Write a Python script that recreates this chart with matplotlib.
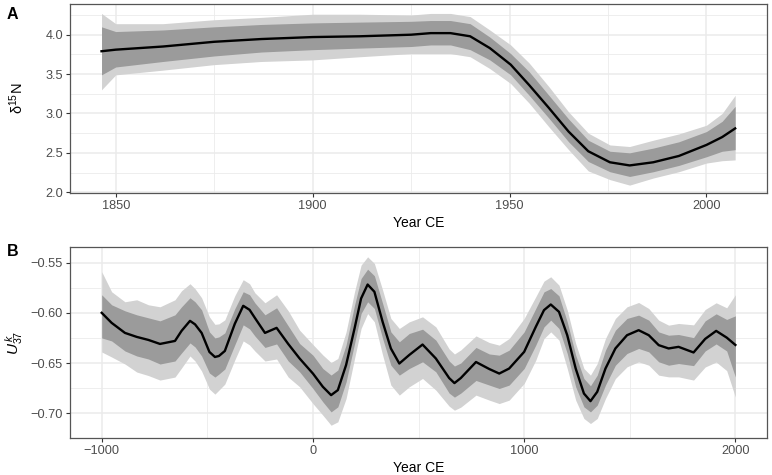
import matplotlib
matplotlib.use("Agg")
import matplotlib.pyplot as plt
from matplotlib.ticker import MultipleLocator

plt.rcParams['font.family'] = ['Liberation Sans', 'DejaVu Sans']
plt.rcParams['mathtext.fontset'] = 'custom'
plt.rcParams['mathtext.rm'] = 'Liberation Sans'
plt.rcParams['mathtext.it'] = 'Liberation Sans:italic'

# panel A: d15N record (recent two centuries)
year_a = [1846.4, 1850, 1862, 1875, 1887, 1900, 1912, 1925, 1930, 1935, 1940, 1945,
          1950.3, 1955, 1960, 1965, 1970, 1975.5, 1980.5, 1986.5, 1993, 2000, 2004, 2007.3]
d15n = [3.79, 3.81, 3.85, 3.91, 3.945, 3.97, 3.98, 4.00, 4.02, 4.02, 3.98, 3.83,
        3.62, 3.36, 3.07, 2.77, 2.52, 2.38, 2.34, 2.38, 2.46, 2.60, 2.70, 2.81]
d15n_in_hi = [4.10, 4.04, 4.06, 4.10, 4.13, 4.15, 4.16, 4.17, 4.18, 4.18, 4.14, 3.97,
              3.76, 3.53, 3.23, 2.93, 2.66, 2.52, 2.50, 2.56, 2.64, 2.77, 2.90, 3.09]
d15n_in_lo = [3.49, 3.59, 3.66, 3.73, 3.78, 3.81, 3.83, 3.85, 3.87, 3.87, 3.81, 3.68,
              3.49, 3.23, 2.94, 2.64, 2.39, 2.26, 2.20, 2.26, 2.34, 2.45, 2.52, 2.54]
d15n_out_hi = [4.27, 4.14, 4.14, 4.19, 4.22, 4.26, 4.26, 4.25, 4.27, 4.27, 4.23, 4.06,
               3.87, 3.64, 3.34, 3.02, 2.75, 2.60, 2.58, 2.66, 2.74, 2.85, 3.00, 3.23]
d15n_out_lo = [3.30, 3.49, 3.55, 3.62, 3.66, 3.68, 3.72, 3.76, 3.76, 3.76, 3.72, 3.57,
               3.38, 3.13, 2.83, 2.54, 2.27, 2.16, 2.09, 2.18, 2.26, 2.37, 2.40, 2.41]

# panel B: UK37 record (last three millennia)
year_b = [-1000, -953, -890, -834, -779, -724, -653, -622, -582, -558, -527, -490,
          -464, -445, -417, -370, -330, -300, -275, -227, -172, -117, -63, 0,
          47, 86, 118, 157, 197, 228, 259, 291, 330, 369, 409, 456,
          519, 582, 645, 670, 700, 772, 835, 882, 929, 1000, 1055, 1094,
          1126, 1165, 1204, 1244, 1283, 1314, 1346, 1385, 1432, 1487, 1542, 1590,
          1637, 1684, 1731, 1802, 1857, 1909, 1959, 2000]
uk37 = [-0.600, -0.610, -0.620, -0.624, -0.627, -0.631, -0.628, -0.618, -0.608, -0.6115, -0.620, -0.639,
        -0.644, -0.643, -0.638, -0.611, -0.593, -0.597, -0.605, -0.620, -0.615, -0.631, -0.6455, -0.6605,
        -0.6737, -0.682, -0.677, -0.652, -0.6156, -0.5857, -0.5718, -0.579, -0.609, -0.6355, -0.6505, -0.642,
        -0.6316, -0.6455, -0.665, -0.670, -0.665, -0.649, -0.656, -0.6605, -0.6555, -0.6389, -0.614, -0.5973,
        -0.5917, -0.599, -0.6223, -0.6555, -0.6804, -0.688, -0.6787, -0.6555, -0.6355, -0.6223, -0.6173, -0.6223,
        -0.6322, -0.6355, -0.6339, -0.6395, -0.626, -0.618, -0.6247, -0.632]
uk37_in_hi = [-0.582, -0.592, -0.598, -0.602, -0.605, -0.608, -0.602, -0.594, -0.585, -0.589, -0.597, -0.619,
              -0.625, -0.624, -0.620, -0.596, -0.579, -0.582, -0.590, -0.602, -0.595, -0.613, -0.6306, -0.6422,
              -0.6555, -0.662, -0.657, -0.632, -0.5924, -0.5658, -0.5565, -0.5631, -0.5907, -0.619, -0.6289, -0.6206,
              -0.6163, -0.6272, -0.648, -0.653, -0.650, -0.6345, -0.641, -0.6422, -0.6372, -0.619, -0.5957, -0.5791,
              -0.5758, -0.5831, -0.609, -0.6422, -0.6655, -0.6727, -0.6621, -0.6372, -0.6173, -0.6056, -0.6023, -0.6073,
              -0.619, -0.6223, -0.6216, -0.6247, -0.608, -0.601, -0.6066, -0.603]
uk37_in_lo = [-0.625, -0.628, -0.638, -0.643, -0.646, -0.651, -0.648, -0.640, -0.630, -0.634, -0.643, -0.660,
              -0.664, -0.661, -0.656, -0.632, -0.612, -0.616, -0.623, -0.6345, -0.631, -0.648, -0.6588, -0.6754,
              -0.6887, -0.6987, -0.6937, -0.6688, -0.6306, -0.6007, -0.589, -0.5957, -0.6256, -0.6522, -0.6621, -0.6555,
              -0.6488, -0.6588, -0.680, -0.684, -0.680, -0.6674, -0.672, -0.6754, -0.672, -0.6555, -0.6322, -0.614,
              -0.6073, -0.6156, -0.6405, -0.6737, -0.6937, -0.6987, -0.692, -0.672, -0.6522, -0.6405, -0.6355, -0.6389,
              -0.6488, -0.6522, -0.6505, -0.6526, -0.638, -0.631, -0.638, -0.664]
uk37_out_hi = [-0.559, -0.579, -0.589, -0.587, -0.592, -0.594, -0.587, -0.578, -0.571, -0.576, -0.585, -0.604,
               -0.6115, -0.611, -0.607, -0.583, -0.567, -0.571, -0.580, -0.590, -0.582, -0.598, -0.6173, -0.6316,
               -0.642, -0.6495, -0.6455, -0.619, -0.579, -0.5525, -0.5442, -0.5508, -0.5774, -0.6056, -0.6156, -0.609,
               -0.604, -0.614, -0.636, -0.641, -0.637, -0.623, -0.6296, -0.6322, -0.6256, -0.6056, -0.584, -0.5684,
               -0.5641, -0.5724, -0.5973, -0.6306, -0.6555, -0.6621, -0.6505, -0.6256, -0.6056, -0.594, -0.5897, -0.5957,
               -0.6073, -0.6123, -0.6106, -0.612, -0.5967, -0.590, -0.595, -0.582]
uk37_out_lo = [-0.639, -0.644, -0.651, -0.659, -0.6625, -0.667, -0.664, -0.655, -0.643, -0.648, -0.658, -0.676,
               -0.681, -0.677, -0.671, -0.647, -0.628, -0.632, -0.638, -0.648, -0.646, -0.664, -0.6737, -0.6904,
               -0.702, -0.712, -0.7086, -0.6854, -0.6455, -0.6156, -0.6007, -0.609, -0.6422, -0.672, -0.682, -0.6737,
               -0.6654, -0.677, -0.693, -0.697, -0.694, -0.682, -0.687, -0.6904, -0.687, -0.6704, -0.6472, -0.6256,
               -0.619, -0.6272, -0.6555, -0.687, -0.7053, -0.7103, -0.7053, -0.6854, -0.6655, -0.6538, -0.6488, -0.6522,
               -0.6621, -0.6638, -0.6638, -0.667, -0.654, -0.649, -0.6576, -0.684]

OUTER = '#d2d2d2'
INNER = '#9b9b9b'
GRID = '#ebebeb'


def _style(ax, xmaj, xmin, ymaj, ymin):
    ax.xaxis.set_major_locator(MultipleLocator(xmaj))
    ax.xaxis.set_minor_locator(MultipleLocator(xmin))
    ax.yaxis.set_major_locator(MultipleLocator(ymaj))
    ax.yaxis.set_minor_locator(MultipleLocator(ymin))
    ax.grid(which='major', color=GRID, lw=1.1)
    ax.grid(which='minor', color=GRID, lw=0.6)
    ax.set_axisbelow(True)
    for s in ax.spines.values():
        s.set_color('#555555')
        s.set_linewidth(0.9)
    ax.tick_params(which='major', length=3, width=0.8, color='#333333',
                   labelsize=9.2, labelcolor='#4d4d4d', pad=2)
    ax.tick_params(which='minor', length=0)
    ax.set_xlabel('Year CE', fontsize=10, labelpad=3)


fig = plt.figure(figsize=(7.72, 4.75), dpi=100)
ax_a = fig.add_axes([0.0907, 0.5937, 0.9029, 0.3979])
ax_b = fig.add_axes([0.0907, 0.0773, 0.9029, 0.4021])

ax_a.fill_between(year_a, d15n_out_lo, d15n_out_hi, color=OUTER, lw=0)
ax_a.fill_between(year_a, d15n_in_lo, d15n_in_hi, color=INNER, lw=0)
ax_a.plot(year_a, d15n, color='black', lw=1.7)
ax_a.set_xlim(1838.4, 2015.4)
ax_a.set_ylim(1.99, 4.39)
_style(ax_a, 50, 25, 0.5, 0.25)
ax_a.yaxis.set_major_formatter(lambda v, p: f'{v:.1f}')

ax_b.fill_between(year_b, uk37_out_lo, uk37_out_hi, color=OUTER, lw=0)
ax_b.fill_between(year_b, uk37_in_lo, uk37_in_hi, color=INNER, lw=0)
ax_b.plot(year_b, uk37, color='black', lw=1.7)
ax_b.set_xlim(-1150, 2150)
ax_b.set_ylim(-0.725, -0.5347)
_style(ax_b, 1000, 500, 0.05, 0.025)
ax_b.yaxis.set_major_formatter(lambda v, p: f'{v:.2f}'.replace('-', '\u2212'))
ax_b.xaxis.set_major_formatter(lambda v, p: f'{v:.0f}'.replace('-', '\u2212'))

fig.text(0.021, 0.5937 + 0.3979 / 2, 'δ$^{15}$N', rotation=90, ha='center', va='center',
         fontsize=10.5)
fig.text(0.018, 0.0773 + 0.4021 / 2, r'$\mathit{U}^{\,\mathit{k}}_{\mathit{37}}$', rotation=90,
         ha='center', va='center', fontsize=11)
fig.text(0.009, 0.985, 'A', fontsize=11.5, fontweight='bold', va='top')
fig.text(0.009, 0.487, 'B', fontsize=11.5, fontweight='bold', va='top')

fig.savefig('out.png', dpi=100)
